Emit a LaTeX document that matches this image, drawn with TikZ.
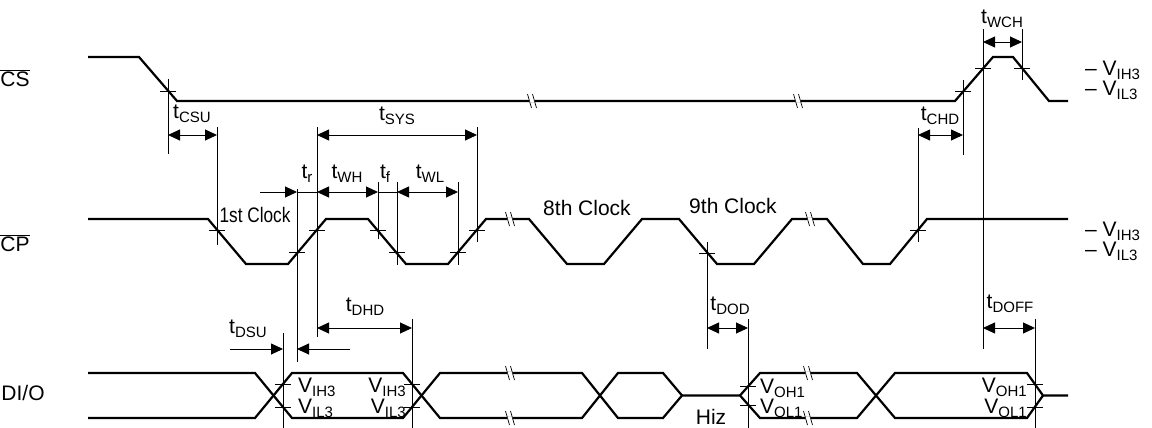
\documentclass[tikz,border=0pt]{standalone}
\usepackage{fontspec}
\setmainfont{Liberation Sans}
\usetikzlibrary{arrows.meta}
\newcommand\sbs[1]{\raisebox{-0.35ex}{\fontsize{15}{15}\selectfont #1}}
\begin{document}
\begin{tikzpicture}[x=1pt,y=-1pt,
  sig/.style={line width=2.2pt,line join=miter},
  thin/.style={line width=0.8pt},
  dim/.style={line width=0.9pt,{Triangle[length=12pt,width=11pt]}-{Triangle[length=12pt,width=11pt]}},
  dimr/.style={line width=0.9pt,-{Triangle[length=12pt,width=11pt]}},
  lbl/.style={inner sep=0pt,font=\fontsize{21}{22}\selectfont},
  brk/.style={line width=0.7pt}]
\useasboundingbox (0,0) rectangle (1152,428);
\tikzset{brkmark/.pic={\draw[white,line width=3pt] (-3,0)--(3,0); \draw[brk] (-4.5,-7)--(-0.5,7); \draw[brk] (0.5,-7)--(4.5,7);}}

% signal labels
\node[lbl] (lcs) at (15,78) {$\overline{\mbox{CS}}$};
\node[lbl] (lcp) at (15,243) {$\overline{\mbox{CP}}$};
\node[lbl] (ldio) at (23,393) {DI/O};

% CS waveform
\draw[sig] (88,57)--(139,57)--(177,101)--(955,101)--(993,57)--(1013,57)--(1049,101)--(1068,101);
% CP waveform
\draw[sig] (88,219)--(208,219)--(246,264)--(288,264)--(326,219)--(368,219)--(406,264)--(448,264)--(486,219)--(529,219)--(567,264)--(604,264)--(642,219)--(679,219)--(717,264)--(754,264)--(792,219)--(827,219)--(863,264)--(890,264)--(927,219)--(1068,219);
% DI/O waveform
\draw[sig] (88,373)--(255,373)--(292,418)--(403,418)--(440,373)--(582,373)--(618,418)--(663,418)--(682,395.5)--(740,395.5)--(760,418)--(857,418)--(895,373)--(1027,373)--(1043,395.5)--(1068,395.5);
\draw[sig] (88,418)--(255,418)--(292,373)--(403,373)--(440,418)--(582,418)--(618,373)--(663,373)--(682,395.5);
\draw[sig] (740,395.5)--(760,373)--(857,373)--(895,418)--(1027,418)--(1043,395.5);

% break marks
\foreach \p in {(532,101),(798,101),(510,219),(810,219),(510,373),(510,418),(808,373),(808,418)}
  \pic at \p {brkmark};

% vertical reference lines
\foreach \x/\a/\b in {168/79/154,217/127/245,317/127/337,477/127/242,297/189/362,378/182/239,397/182/265,458/182/265,707/242/349,918/128/242,963/80/155,983/29/349,1022/29/80,283/333/428,412/319/428,748/319/428,1035/319/428}
  \draw[thin] (\x,\a)--(\x,\b);

% crossing ticks
\foreach \x/\y in {168/91,983/68,1022/68,963/91,217/230,297/252,317/230,378/230,397/252,458/252,477/230,707/253,918/230,283/384,283/407,412/384,412/407,748/386,748/405,1035/384,1035/407}
  \draw[thin] (\x-8,\y)--(\x+8,\y);

% dimension arrows
\draw[dim] (168,135)--(217,135);
\node[lbl] (tcsu) at (192,114) {t\sbs{CSU}};
\draw[dim] (317,135)--(477,135);
\node[lbl] (tsys) at (397,116) {t\sbs{SYS}};
\draw[dim] (918,135)--(963,135);
\node[lbl] (tchd) at (940,116) {t\sbs{CHD}};
\draw[dim] (983,42)--(1022,42);
\node[lbl] (twch) at (1002,19) {t\sbs{WCH}};

\draw[dimr] (260,192)--(297,192);
\draw[thin] (297,192)--(317,192);
\draw[dim] (317,192)--(378,192);
\draw[thin] (378,192)--(397,192);
\draw[dim] (397,192)--(458,192);
\node[lbl] (tr) at (307,174) {t\sbs{r}};
\node[lbl] (twh) at (347,174) {t\sbs{WH}};
\node[lbl] (tf) at (385,174) {t\sbs{f}};
\node[lbl] (twl) at (430,174) {t\sbs{WL}};

\draw[dimr] (230,349)--(283,349);
\draw[dimr] (350,349)--(297,349);
\node[lbl] (tdsu) at (248,329) {t\sbs{DSU}};
\draw[dim] (317,328)--(412,328);
\node[lbl] (tdhd) at (365,307) {t\sbs{DHD}};
\draw[dim] (707,328)--(748,328);
\node[lbl] (tdod) at (730,306) {t\sbs{DOD}};
\draw[dim] (983,328)--(1035,328);
\node[lbl] (tdoff) at (1010,304) {t\sbs{DOFF}};

% clock labels
\node[lbl] (c1) at (255,215) {\scalebox{0.82}[1]{1st Clock}};
\node[lbl] (c8) at (587,208) {8th Clock};
\node[lbl] (c9) at (733,206) {9th Clock};
\node[lbl] (hiz) at (711,417) {Hiz};

% level labels
\node[lbl,anchor=west] (r1) at (1085,70) {– V\sbs{IH3}};
\node[lbl,anchor=west] (r2) at (1085,90) {– V\sbs{IL3}};
\node[lbl,anchor=west] (r3) at (1085,231) {– V\sbs{IH3}};
\node[lbl,anchor=west] (r4) at (1085,251) {– V\sbs{IL3}};

\node[lbl,anchor=west] (a1) at (298,387) {V\sbs{IH3}};
\node[lbl,anchor=west] (a2) at (298,408) {V\sbs{IL3}};
\node[lbl,anchor=east] (a3) at (406,387) {V\sbs{IH3}};
\node[lbl,anchor=east] (a4) at (406,408) {V\sbs{IL3}};
\node[lbl,anchor=west] (b1) at (760,388) {V\sbs{OH1}};
\node[lbl,anchor=west] (b2) at (760,408) {V\sbs{OL1}};
\node[lbl,anchor=east] (b3) at (1027,387) {V\sbs{OH1}};
\node[lbl,anchor=east] (b4) at (1027,408) {V\sbs{OL1}};
\end{tikzpicture}
\end{document}
